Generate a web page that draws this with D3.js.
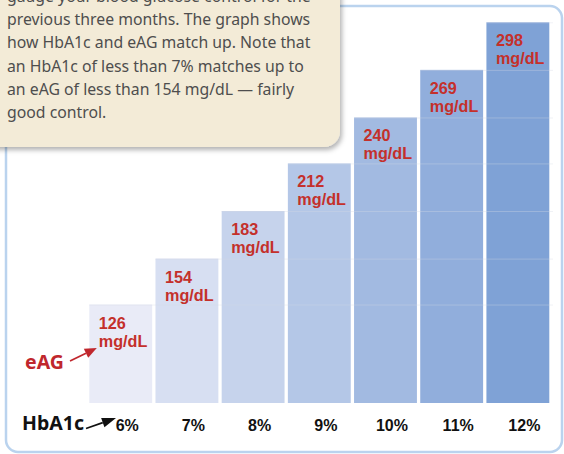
<!DOCTYPE html>
<html lang="en">
<head>
    <meta charset="UTF-8">
    <title>HbA1c and eAG</title>
    <script src="https://d3js.org/d3.v7.min.js"></script>
    <style>
        body {
            margin: 0;
            background-color: #ffffff;
        }

        svg {
            display: block;
            font-family: "Noto Sans", "Liberation Sans", Arial, sans-serif;
        }

        .note {
            font-size: 15.8px;
            fill: #4e4e4e;
        }

        .value-label {
            font-family: "Liberation Sans", Arial, sans-serif;
            font-size: 16.2px;
            font-weight: bold;
            fill: #c4302b;
        }

        .tick text {
            font-size: 16px;
            font-weight: bold;
            fill: #111;
        }
    </style>
</head>
<body>
    <div id="chart"></div>
    <script>
        // Data
        const hba1c = ["6%", "7%", "8%", "9%", "10%", "11%", "12%"];
        const eag = [126, 154, 183, 212, 240, 269, 298];
        const noteLines = [
            "gauge your blood glucose control for the",
            "previous three months. The graph shows",
            "how HbA1c and eAG match up. Note that",
            "an HbA1c of less than 7% matches up to",
            "an eAG of less than 154 mg/dL \u2014 fairly",
            "good control."
        ];

        const width = 564;
        const height = 454;

        const svg = d3.select("#chart")
            .append("svg")
            .attr("width", width)
            .attr("height", height);

        const defs = svg.append("defs");
        defs.append("filter")
            .attr("id", "shadow")
            .attr("x", "-10%").attr("y", "-10%")
            .attr("width", "130%").attr("height", "130%")
            .append("feDropShadow")
            .attr("dx", 2)
            .attr("dy", 3)
            .attr("stdDeviation", 2.5)
            .attr("flood-color", "#000")
            .attr("flood-opacity", 0.3);

        // Outer frame
        svg.append("rect")
            .attr("x", 6)
            .attr("y", 6)
            .attr("width", 556)
            .attr("height", 446)
            .attr("rx", 12)
            .attr("fill", "none")
            .attr("stroke", "#bad3ee")
            .attr("stroke-width", 2.5);

        // Scales
        const xScale = d3.scaleBand()
            .domain(hba1c)
            .range([89.3, 549.3])
            .paddingInner(0.05)
            .paddingOuter(0);

        const yScale = d3.scaleLinear()
            .domain([66, 298])
            .range([403, 22.3]);

        const colour = d3.scaleLinear()
            .domain([0, hba1c.length - 1])
            .range(["#e9ebf7", "#7fa2d6"]);

        const rows = hba1c.map((c, i) => ({ cat: c, value: eag[i], i: i }));

        // Bars
        svg.selectAll(".bar")
            .data(rows)
            .enter()
            .append("rect")
            .attr("class", "bar")
            .attr("x", d => xScale(d.cat))
            .attr("y", d => yScale(d.value))
            .attr("width", xScale.bandwidth())
            .attr("height", d => yScale.range()[0] - yScale(d.value))
            .attr("fill", d => colour(d.i));

        // Faint lines running right from each bar top
        svg.selectAll(".grid")
            .data(rows)
            .enter()
            .append("line")
            .attr("class", "grid")
            .attr("x1", d => xScale(d.cat))
            .attr("x2", 553)
            .attr("y1", d => yScale(d.value) + 0.5)
            .attr("y2", d => yScale(d.value) + 0.5)
            .attr("stroke", "#d3d9e4")
            .attr("stroke-opacity", 0.35)
            .attr("stroke-width", 1);

        // Value labels, two lines each
        svg.selectAll(".value-num")
            .data(rows)
            .enter()
            .append("text")
            .attr("class", "value-label value-num")
            .attr("x", d => xScale(d.cat) + 9.5)
            .attr("y", d => yScale(d.value) + 24)
            .text(d => d.value);

        svg.selectAll(".value-unit")
            .data(rows)
            .enter()
            .append("text")
            .attr("class", "value-label value-unit")
            .attr("x", d => xScale(d.cat) + 9.5)
            .attr("y", d => yScale(d.value) + 42)
            .text("mg/dL");

        // X axis (HbA1c)
        const xAxis = svg.append("g")
            .attr("transform", "translate(6.5,416)")
            .call(d3.axisBottom(xScale).tickSize(0).tickPadding(0));
        xAxis.select(".domain").remove();
        xAxis.selectAll(".tick text").attr("dy", "0.95em");

        // Arrow helper
        function arrow(x1, y1, x2, y2, len, half, col, sw) {
            const a = Math.atan2(y2 - y1, x2 - x1);
            const bx = x2 - len * Math.cos(a);
            const by = y2 - len * Math.sin(a);
            svg.append("line")
                .attr("x1", x1).attr("y1", y1)
                .attr("x2", bx).attr("y2", by)
                .attr("stroke", col)
                .attr("stroke-width", sw);
            const pts = [
                [x2, y2],
                [bx + half * Math.sin(a), by - half * Math.cos(a)],
                [bx - half * Math.sin(a), by + half * Math.cos(a)]
            ];
            svg.append("polygon")
                .attr("points", pts.map(p => p.join(",")).join(" "))
                .attr("fill", col);
        }

        // eAG annotation
        svg.append("text")
            .attr("x", 25)
            .attr("y", 369)
            .attr("font-size", 19.5)
            .attr("font-weight", "bold")
            .attr("fill", "#c0272d")
            .text("eAG");
        arrow(70, 361, xScale(hba1c[0]) + 7.5, yScale(eag[0]) + 43.5, 12, 5, "#c0272d", 1.8);

        // HbA1c annotation
        svg.append("text")
            .attr("x", 22)
            .attr("y", 430)
            .attr("font-size", 19.5)
            .attr("font-weight", "bold")
            .attr("fill", "#111")
            .text("HbA1c");
        arrow(86, 428.5, 116, 418, 14, 5, "#111", 1.6);

        // Note box in the top left
        svg.append("rect")
            .attr("x", -20)
            .attr("y", -20)
            .attr("width", 360)
            .attr("height", 167)
            .attr("rx", 16)
            .attr("fill", "#f3ebd7")
            .attr("filter", "url(#shadow)");

        svg.selectAll(".note")
            .data(noteLines)
            .enter()
            .append("text")
            .attr("class", "note")
            .attr("x", 7)
            .attr("y", (d, i) => 1.7 + i * 23.3)
            .text(d => d);
    </script>
</body>
</html>
